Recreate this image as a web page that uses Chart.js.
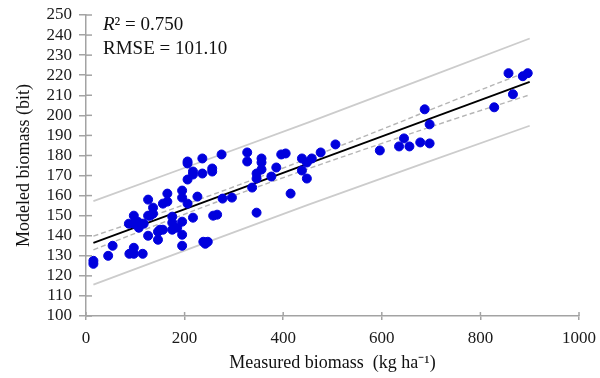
<!DOCTYPE html>
<html><head><meta charset="utf-8">
<script src="https://cdn.jsdelivr.net/npm/chart.js@4.4.1/dist/chart.umd.min.js"></script>
<style>html,body{margin:0;padding:0;background:#fff}#wrap{width:600px;height:378px}</style>
</head><body><div id="wrap"><canvas id="c" width="600" height="378"></canvas></div>
<script>
// Observed points: measured biomass (kg/ha) vs modeled biomass (bit)
const measured = [15,15,45,54,88,97,97,115,97,87,97,105,108,107,117,126,126,130,126,136,136,146,146,150,156,156,165,165,175,175,175,185,195,195,195,195,195,206,206,206,206,217,217,217,226,236,236,238,242,247,256,256,258,266,275,277,296,327,327,337,346,346,346,356,356,356,376,386,396,405,415,438,438,448,448,458,476,506,596,635,645,656,678,687,697,697,828,857,866,886,896];
const modeled  = [127.5,126,130,135,131,131,134,131,150,146,146,147,146,144,146,158,150,150,140,154,151,142,138,143,143,156,161,157,149.5,146.5,143,144,162.5,159,147,140.5,135,177,176,168,156,172,170.5,149,159.5,178.5,171,137,136,137,173.5,172,150,150.5,180.5,158.5,159,181.5,177,164,171,168.5,151.5,178.5,176.5,173,169.5,174,180.5,181,161,178.5,172.5,176.5,168.5,178.5,181.5,185.5,182.5,184.5,188.5,184.5,186.5,203,195.5,186,204,221,210.5,219.5,221];
// Regression line
const fitX = [15, 900];
const fitY = [136.4, 216.7];
// 95% confidence band (dashed)
const confX = [15, 150, 300, 450, 600, 750, 900];
const confUpper = [139.8, 151.2, 164.4, 178.5, 193.0, 207.8, 222.2];
const confLower = [133.0, 146.0, 160.0, 173.3, 186.0, 198.4, 210.2];
// Prediction band (solid light grey)
const predX = [15, 450, 900];
const predUpper = [157.2, 196.4, 238.3];
const predLower = [115.6, 155.4, 194.8];
// Axis ticks
const xTicks = [0, 200, 400, 600, 800, 1000];
const yTicks = [100,110,120,130,140,150,160,170,180,190,200,210,220,230,240,250];

const FONT = "'Liberation Serif','Times New Roman',serif";
const AXIS = '#a3a3a3';
const pts = (xs, ys) => xs.map((v, i) => ({x: v, y: ys[i]}));

const innerTicks = {
  id: 'innerTicks',
  afterDatasetsDraw(chart) {
    const {ctx, scales: {x, y}} = chart;
    ctx.save();
    ctx.strokeStyle = AXIS; ctx.lineWidth = 1.5;
    y.ticks.forEach(t => { const p = y.getPixelForValue(t.value);
      ctx.beginPath(); ctx.moveTo(x.left, p); ctx.lineTo(x.left + 6, p); ctx.stroke(); });
    x.ticks.forEach(t => { const p = x.getPixelForValue(t.value);
      ctx.beginPath(); ctx.moveTo(p, y.bottom); ctx.lineTo(p, y.bottom - 4); ctx.stroke(); });
    ctx.restore();
  }
};
const stats = {
  id: 'stats',
  afterDraw(chart) {
    const ctx = chart.ctx;
    ctx.save();
    ctx.fillStyle = '#111'; ctx.textBaseline = 'alphabetic'; ctx.textAlign = 'left';
    ctx.font = 'italic 19px ' + FONT;
    ctx.fillText('R', 103, 29.5);
    const w = ctx.measureText('R').width;
    ctx.font = '19px ' + FONT;
    ctx.fillText('² = 0.750', 103 + w, 29.5);
    ctx.fillText('RMSE = 101.10', 103, 54);
    ctx.restore();
  }
};

new Chart(document.getElementById('c'), {
  type: 'scatter',
  data: { datasets: [
    { data: pts(measured, modeled), backgroundColor: '#0000dd', borderColor: '#0000dd', pointRadius: 4.5, pointHoverRadius: 4.5, order: 0 },
    { data: pts(fitX, fitY), showLine: true, borderColor: '#000', borderWidth: 1.8, pointRadius: 0, order: 1 },
    { data: pts(confX, confUpper), showLine: true, borderColor: '#b5b5b5', borderWidth: 1.4, borderDash: [5, 3], pointRadius: 0, tension: 0.4, order: 2 },
    { data: pts(confX, confLower), showLine: true, borderColor: '#b5b5b5', borderWidth: 1.4, borderDash: [5, 3], pointRadius: 0, tension: 0.4, order: 2 },
    { data: pts(predX, predUpper), showLine: true, borderColor: '#cccccc', borderWidth: 1.8, pointRadius: 0, tension: 0.3, order: 3 },
    { data: pts(predX, predLower), showLine: true, borderColor: '#cccccc', borderWidth: 1.8, pointRadius: 0, tension: 0.3, order: 3 }
  ]},
  options: {
    responsive: false, animation: false, devicePixelRatio: 1,
    layout: { padding: { left: 0, right: 21, top: 15, bottom: 0 } },
    plugins: { legend: { display: false }, tooltip: { enabled: false } },
    scales: {
      x: {
        type: 'linear', min: 0, max: 1000,
        afterBuildTicks: s => { s.ticks = xTicks.map(v => ({value: v})); },
        afterFit: s => { s.height = 62; s.paddingLeft = 0; s.paddingRight = 0; },
        grid: { drawOnChartArea: false, drawTicks: true, tickLength: 4, color: AXIS, lineWidth: 1.5 },
        border: { color: AXIS, width: 1.5 },
        ticks: { color: '#1a1a1a', font: { family: FONT, size: 17 }, padding: 8, maxRotation: 0, autoSkip: false, callback: v => String(v) },
        title: { display: true, text: 'Measured biomass  (kg ha⁻¹)', color: '#111', font: { family: FONT, size: 18 }, padding: { top: 0, bottom: 4 } }
      },
      y: {
        type: 'linear', min: 100, max: 250,
        afterBuildTicks: s => { s.ticks = yTicks.map(v => ({value: v})); },
        afterFit: s => { s.width = 86; s.paddingTop = 0; s.paddingBottom = 0; },
        grid: { drawOnChartArea: false, drawTicks: true, tickLength: 7, color: AXIS, lineWidth: 1.5 },
        border: { color: AXIS, width: 1.5 },
        ticks: { color: '#1a1a1a', font: { family: FONT, size: 17 }, padding: 7, autoSkip: false, callback: v => String(v) },
        title: { display: true, text: 'Modeled biomass (bit)', color: '#111', font: { family: FONT, size: 18 }, padding: { top: 13, bottom: 0 } }
      }
    }
  },
  plugins: [innerTicks, stats]
});
</script>
</body></html>
